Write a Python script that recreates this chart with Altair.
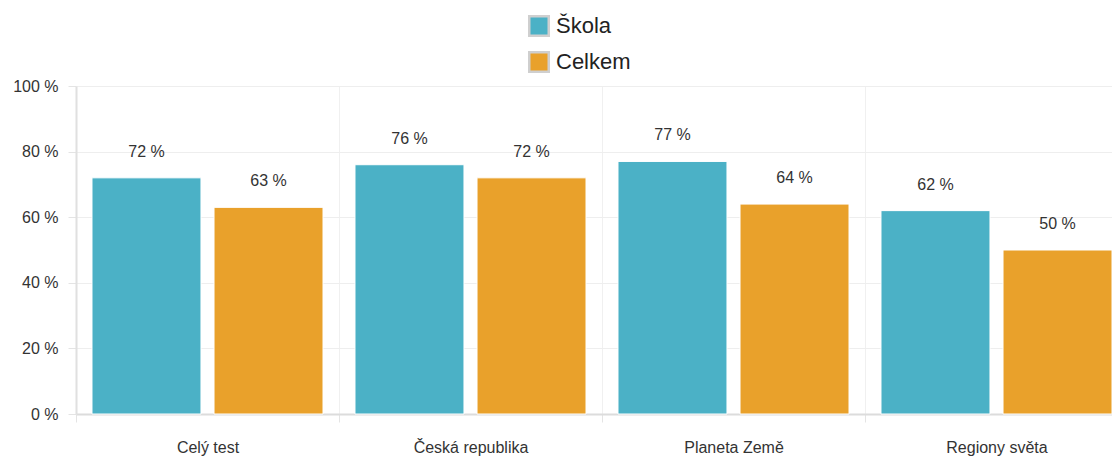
import altair as alt
import pandas as pd

categories = ["Celý test", "Česká republika", "Planeta Země", "Regiony světa"]
series = ["Škola", "Celkem"]
skola = [72, 76, 77, 62]
celkem = [63, 72, 64, 50]
colors = ["#4bb1c6", "#e9a12b"]
y_ticks = [0, 20, 40, 60, 80, 100]

rows = []
for c, a, b in zip(categories, skola, celkem):
    rows.append({"cat": c, "series": series[0], "value": a})
    rows.append({"cat": c, "series": series[1], "value": b})
df = pd.DataFrame(rows)

FONT = "Liberation Sans"

x = alt.X("cat:N", sort=categories, title=None,
          scale=alt.Scale(range=[0, 1052], paddingInner=0, paddingOuter=0),
          axis=alt.Axis(labelAngle=0, labelFontSize=16, labelColor="#333", labelFont=FONT,
                        tickBand="extent", tickSize=8, tickColor="#e4e4e4", tickWidth=1,
                        labelPadding=17, domainColor="#dcdcdc", domainWidth=2,
                        grid=True, gridColor="#f0f0f0", gridWidth=1))
xo = alt.XOffset("series:N", sort=series,
                 scale=alt.Scale(paddingInner=0.107, paddingOuter=0.131))
y = alt.Y("value:Q", title=None,
          scale=alt.Scale(domain=[0, 100], nice=False),
          axis=alt.Axis(values=y_ticks, labelExpr="datum.value + ' %'", labelFontSize=16,
                        labelColor="#333", labelFont=FONT, tickSize=8, tickColor="#e4e4e4",
                        labelPadding=10, domainColor="#e0e0e0", domainWidth=2,
                        gridColor="#eeeeee", gridWidth=1))
color = alt.Color("series:N", sort=series, title=None,
                  scale=alt.Scale(domain=series, range=colors),
                  legend=alt.Legend(orient="none", legendX=452, legendY=-71, direction="vertical",
                                    symbolType="square", symbolSize=380, symbolStrokeColor="#cfcfcf",
                                    symbolStrokeWidth=2.5, labelFontSize=22, labelFont=FONT,
                                    labelColor="#222", labelOffset=6, rowPadding=6, padding=0))

base = alt.Chart(df)
bars = base.mark_bar(stroke="white", strokeWidth=1).encode(x=x, xOffset=xo, y=y, color=color)
labels = base.transform_calculate(lbl="datum.value + ' %'").mark_text(
    dy=-26, fontSize=16, font=FONT, color="#333"
).encode(x=x, xOffset=xo, y=y, text="lbl:N")

chart = alt.layer(bars, labels).properties(
    width=1036, height=328,
    autosize=alt.AutoSizeParams(type="none"),
    padding={"left": 68, "top": 78, "right": 0, "bottom": 50},
).configure_view(stroke=None).configure_axis(domainCap="butt")

chart.save("out.html", embed_options={"renderer": "svg", "actions": False})
